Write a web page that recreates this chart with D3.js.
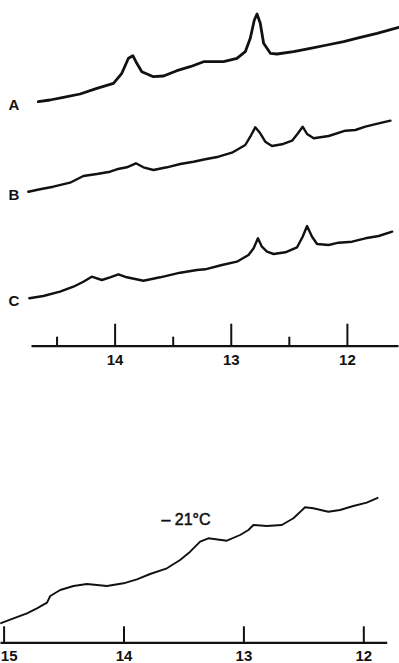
<!DOCTYPE html>
<html>
<head>
<meta charset="utf-8">
<script src="https://cdn.jsdelivr.net/npm/d3@7"></script>
<style>
  body { margin: 0; background: #fff; }
  svg { display: block; }
  text { font-family: "Liberation Sans", Arial, sans-serif; font-weight: bold; fill: #111; }
</style>
</head>
<body>
<div id="chart"></div>
<script>
// chemical shift axis values (reversed: high on the left)
const topMajorTicks = [14, 13, 12];
const topMinorTicks = [14.5, 13.5, 12.5];
const bottomTicks = [15, 14, 13, 12];
const traceLabels = ["A", "B", "C"];
const tempLabel = "\u2013 21\u00b0C";

// trace A
const shiftA = [14.657, 14.556, 14.441, 14.297, 14.153, 14.010, 13.938, 13.881, 13.843, 13.809,
  13.766, 13.666, 13.579, 13.464, 13.349, 13.234, 13.134, 13.062, 12.947, 12.875, 12.832,
  12.797, 12.774, 12.746, 12.717, 12.659, 12.602, 12.459, 12.315, 12.171, 12.028, 11.884,
  11.740, 11.553];
const signalA = [24.83, 25.0, 25.27, 25.6, 26.17, 26.67, 27.67, 29.17, 29.43, 28.67,
  27.83, 27.33, 27.4, 27.93, 28.33, 28.83, 28.83, 28.83, 29.17, 29.83, 31.17,
  33.0, 33.6, 32.67, 30.67, 29.67, 29.6, 29.83, 30.17, 30.5, 30.83, 31.27,
  31.67, 32.27];

// trace B
const shiftB = [14.743, 14.642, 14.528, 14.384, 14.269, 14.153, 14.039, 13.981, 13.895, 13.817,
  13.752, 13.666, 13.550, 13.435, 13.321, 13.220, 13.105, 12.990, 12.875, 12.832, 12.789,
  12.746, 12.703, 12.645, 12.559, 12.472, 12.421, 12.381, 12.343, 12.286, 12.157, 12.013,
  11.927, 11.841, 11.726, 11.625];
const signalB = [15.83, 16.07, 16.33, 16.73, 17.4, 17.6, 17.83, 18.07, 18.27, 18.67,
  18.27, 18.0, 18.27, 18.6, 18.83, 19.07, 19.33, 19.73, 20.5, 21.33, 22.27,
  21.67, 20.83, 20.4, 20.57, 20.93, 21.67, 22.33, 21.6, 21.17, 21.4, 21.93,
  22.0, 22.33, 22.67, 22.93];

// trace C
const shiftC = [14.734, 14.614, 14.470, 14.355, 14.269, 14.197, 14.110, 14.039, 13.967, 13.895,
  13.752, 13.608, 13.435, 13.291, 13.220, 13.076, 12.947, 12.847, 12.803, 12.766, 12.732,
  12.688, 12.631, 12.530, 12.429, 12.381, 12.343, 12.300, 12.257, 12.157, 12.071, 11.955,
  11.841, 11.726, 11.610];
const signalC = [5.17, 5.4, 5.83, 6.33, 6.83, 7.33, 7.0, 7.27, 7.57, 7.27,
  6.93, 7.27, 7.73, 8.0, 8.07, 8.5, 8.83, 9.5, 10.17, 11.17, 10.33,
  9.83, 9.6, 9.77, 10.27, 11.33, 12.4, 11.33, 10.6, 10.5, 10.73, 10.83,
  11.17, 11.4, 11.83];

// -21 C trace (lower panel)
const shiftT = [15.028, 14.917, 14.805, 14.722, 14.638, 14.611, 14.528, 14.417, 14.305, 14.138,
  14.0, 13.888, 13.778, 13.638, 13.528, 13.444, 13.361, 13.292, 13.138, 13.028, 12.958,
  12.917, 12.805, 12.680, 12.583, 12.486, 12.417, 12.292, 12.194, 12.083, 11.972, 11.875];
const signalT = [2.67, 3.17, 3.67, 4.17, 4.73, 5.4, 6.0, 6.4, 6.6, 6.4,
  6.67, 7.07, 7.6, 8.17, 9.0, 9.83, 10.83, 11.17, 10.93, 11.5, 12.0,
  12.5, 12.4, 12.5, 13.17, 14.27, 14.17, 13.83, 14.0, 14.4, 14.73, 15.23];

const width = 399, height = 663;

const svg = d3.select("#chart").append("svg")
    .attr("width", width)
    .attr("height", height);

// upper panel scales
const xTop = d3.scaleLinear().domain([14.72, 11.56]).range([31, 398]);
const yTop = d3.scaleLinear().domain([0, 35]).range([350, 0]);
// lower panel scales
const xBot = d3.scaleLinear().domain([15.03, 11.805]).range([0, 386.7]);
const yBot = d3.scaleLinear().domain([0, 20]).range([650, 450]);

const lineTop = d3.line().x(d => xTop(d[0])).y(d => yTop(d[1]));
const lineBot = d3.line().x(d => xBot(d[0])).y(d => yBot(d[1]));

const traces = [
    { x: shiftA, y: signalA, w: 2.8 },
    { x: shiftB, y: signalB, w: 2.4 },
    { x: shiftC, y: signalC, w: 2.4 }
];

traces.forEach(function(t, i) {
    const pts = t.x.map((v, j) => [v, t.y[j]]);
    svg.append("path")
        .datum(pts)
        .attr("d", lineTop)
        .attr("fill", "none")
        .attr("stroke", "#111")
        .attr("stroke-width", t.w)
        .attr("stroke-linejoin", "round")
        .attr("stroke-linecap", "round");
    svg.append("text")
        .attr("x", 14)
        .attr("y", yTop(t.y[0]) + 8)
        .attr("text-anchor", "middle")
        .style("font-size", "15px")
        .text(traceLabels[i]);
});

// upper axis
const axisTop = svg.append("g")
    .attr("transform", "translate(0,345.7)")
    .call(d3.axisBottom(xTop).tickValues(topMajorTicks).tickFormat(d3.format("d"))
        .tickSize(-22).tickSizeOuter(0).tickPadding(9));
svg.append("g")
    .attr("transform", "translate(0,345.7)")
    .call(d3.axisBottom(xTop).tickValues(topMinorTicks).tickFormat("")
        .tickSize(-9).tickSizeOuter(0))
    .select(".domain").remove();

// lower trace
svg.append("path")
    .datum(shiftT.map((v, j) => [v, signalT[j]]))
    .attr("d", lineBot)
    .attr("fill", "none")
    .attr("stroke", "#111")
    .attr("stroke-width", 1.9)
    .attr("stroke-linejoin", "round");

svg.append("text")
    .attr("x", 186)
    .attr("y", 525)
    .attr("text-anchor", "middle")
    .style("font-size", "16px")
    .style("font-weight", "normal")
    .style("stroke", "#111")
    .style("stroke-width", 0.5)
    .text(tempLabel);

const axisBot = svg.append("g")
    .attr("transform", "translate(0,642.3)")
    .call(d3.axisBottom(xBot).tickValues(bottomTicks).tickFormat(d3.format("d"))
        .tickSize(-16).tickSizeOuter(0).tickPadding(8.5));

[axisTop, axisBot].forEach(function(g, i) {
    g.selectAll(".domain").attr("stroke", "#111").attr("stroke-width", 2.2);
    g.selectAll(".tick line").attr("stroke", "#111").attr("stroke-width", 2);
    g.selectAll(".tick text")
        .attr("fill", "#111")
        .style("font-family", "'Liberation Sans', Arial, sans-serif")
        .style("font-weight", "bold")
        .style("font-size", "15px");
});
// leftmost label sits against the edge
axisBot.selectAll(".tick text").filter(d => d === 15)
    .attr("text-anchor", "start")
    .attr("x", -3.3);
svg.selectAll("g .tick line").attr("stroke", "#111").attr("stroke-width", 2);
</script>
</body>
</html>
